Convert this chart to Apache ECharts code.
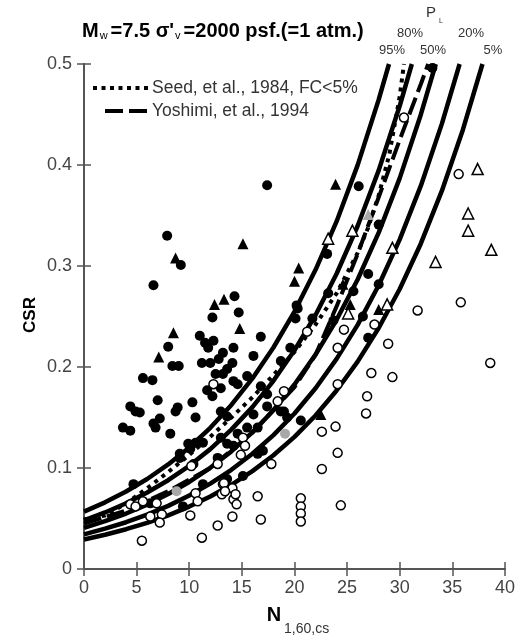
<!DOCTYPE html>
<html>
<head>
<meta charset="utf-8">
<style>
  html, body { margin: 0; padding: 0; background: #fff; }
  #chart { width: 518px; height: 642px; }
</style>
<script src="https://cdn.jsdelivr.net/npm/echarts@6/dist/echarts.min.js"></script>
</head>
<body>
<div id="chart"></div>
<script>
// Liquefaction probability contours: CSR versus N1,60,cs (Mw = 7.5, sigma'v = 1 atm)
const xTicks = [0, 5, 10, 15, 20, 25, 30, 35, 40];
const yTicks = [0, 0.1, 0.2, 0.3, 0.4, 0.5];

// P_L contours, [N1,60,cs, CSR]
const pl95 = [[0,0.0568],[2,0.0660],[4,0.0767],[6,0.0891],[8,0.1035],[10,0.1203],[12,0.1398],[14,0.1624],[16,0.1887],[18,0.2193],[20,0.2549],[22,0.2962],[24,0.3441],[26,0.3999],[28,0.4647],[28.98,0.5]];
const pl80 = [[0,0.0482],[2,0.0560],[4,0.0651],[6,0.0757],[8,0.0879],[10,0.1022],[12,0.1187],[14,0.1380],[16,0.1603],[18,0.1863],[20,0.2165],[22,0.2515],[24,0.2923],[26,0.3396],[28,0.3947],[30,0.4586],[31.15,0.5]];
const pl50 = [[0,0.0407],[2,0.0473],[4,0.0549],[6,0.0638],[8,0.0742],[10,0.0862],[12,0.1002],[14,0.1164],[16,0.1353],[18,0.1572],[20,0.1827],[22,0.2123],[24,0.2467],[26,0.2866],[28,0.3331],[30,0.3870],[32,0.4498],[33.42,0.5]];
const pl20 = [[0,0.0343],[2,0.0399],[4,0.0463],[6,0.0538],[8,0.0625],[10,0.0727],[12,0.0845],[14,0.0982],[16,0.1141],[18,0.1326],[20,0.1540],[22,0.1790],[24,0.2080],[26,0.2417],[28,0.2809],[30,0.3264],[32,0.3793],[34,0.4407],[35.69,0.5]];
const pl05 = [[0,0.0292],[2,0.0339],[4,0.0394],[6,0.0457],[8,0.0531],[10,0.0618],[12,0.0718],[14,0.0834],[16,0.0969],[18,0.1126],[20,0.1308],[22,0.1520],[24,0.1767],[26,0.2053],[28,0.2386],[30,0.2772],[32,0.3221],[34,0.3743],[36,0.4350],[37.86,0.5]];

// Reference boundary curves
const seed1984 = [[0,0.049],[2,0.053],[4,0.065],[6,0.080],[8,0.096],[10,0.113],[12,0.131],[14,0.150],[16,0.170],[18,0.192],[20,0.215],[22,0.242],[24,0.273],[26,0.313],[27,0.338],[28,0.370],[29,0.410],[30,0.468],[30.4,0.5]];
const yoshimi1994 = [[0,0.045],[4,0.058],[8,0.077],[12,0.100],[16,0.135],[20,0.180],[22,0.212],[24,0.260],[26,0.312],[28,0.368],[30,0.425],[32,0.480],[32.7,0.5]];

// Case histories
const liqCircles = [[7.9,0.330],[9.2,0.301],[6.6,0.281],[17.4,0.380],[14.3,0.270],[14.7,0.254],[12.2,0.249],[20.2,0.261],[16.8,0.230],[8.0,0.220],
  [11.0,0.231],[11.5,0.224],[12.3,0.226],[11.8,0.219],[13.2,0.214],[14.2,0.219],[16.1,0.211],[11.2,0.204],[12.0,0.204],[12.8,0.208],[14.1,0.204],[8.4,0.201],[9.0,0.201],[12.5,0.193],[13.6,0.198],[14.2,0.186],[5.6,0.189],[6.5,0.187],[7.0,0.167],[4.4,0.161],[4.9,0.156],[5.3,0.155],[8.7,0.156],[8.9,0.160],[10.3,0.165],[10.6,0.150],[6.6,0.144],[7.2,0.149],[3.7,0.140],[4.4,0.137],[8.2,0.134],[6.8,0.140],
  [9.1,0.114],[10.1,0.119],[10.6,0.125],[13.0,0.156],[13.6,0.151],[12.2,0.171],[11.7,0.177],[13.0,0.179],[13.2,0.193],[14.6,0.183],[15.5,0.191],[16.8,0.181],[17.4,0.173],[18.7,0.206],[19.6,0.219],[20.3,0.258],[20.1,0.248],[17.4,0.161],[16.1,0.153],[15.5,0.140],[14.6,0.134],[13.6,0.124],[13.0,0.130],[9.1,0.110],[11.3,0.125],[10.4,0.104],[18.7,0.156],[19.3,0.150],[16.5,0.140],[17.0,0.117],
  [4.7,0.084],[9.9,0.124],[11.3,0.084],[6.3,0.065],[9.4,0.062],[12.7,0.110],[13.6,0.089],[15.1,0.092],[16.5,0.114],[14.2,0.122],
  [23.2,0.273],[27.0,0.292],[23.7,0.246],[26.5,0.250],[28.0,0.282],[19.0,0.156],[20.6,0.147],[27.0,0.229],[23.1,0.312],[21.7,0.248],[25.6,0.275],[26.1,0.379],[28.0,0.341],[33.1,0.496]];
const liqTriangles = [[8.7,0.308],[15.1,0.322],[12.4,0.262],[13.3,0.267],[20.4,0.298],[20.0,0.285],[8.5,0.234],[14.8,0.238],[7.1,0.210],[23.9,0.381],[24.6,0.282],[25.3,0.262],[28.0,0.257],[22.5,0.153]];
const nonLiqCircles = [[12.3,0.183],[19.0,0.176],[18.4,0.166],[15.1,0.130],[15.3,0.122],[14.9,0.113],[17.8,0.104],[10.2,0.102],[12.7,0.104],
  [4.4,0.064],[4.9,0.062],[5.6,0.067],[6.9,0.065],[7.4,0.054],[6.3,0.052],[7.2,0.046],[5.5,0.028],[10.1,0.053],[10.6,0.075],[10.8,0.067],[12.7,0.043],[11.2,0.031],[13.2,0.084],[14.1,0.080],[14.2,0.069],[14.5,0.064],[14.1,0.052],[14.4,0.074],[13.1,0.074],[16.5,0.072],[16.8,0.049],
  [24.1,0.183],[22.6,0.136],[23.9,0.141],[24.1,0.115],[22.6,0.099],[20.6,0.070],[20.6,0.062],[20.6,0.055],[20.6,0.047],[24.4,0.063],[13.3,0.085],[13.4,0.077],
  [35.8,0.264],[31.7,0.256],[38.6,0.204],[24.7,0.237],[27.6,0.242],[24.1,0.219],[28.9,0.223],[27.3,0.194],[29.3,0.190],[26.9,0.171],[26.8,0.154],[21.2,0.235],
  [30.4,0.447],[35.6,0.391]];
const nonLiqTriangles = [[38.7,0.316],[33.4,0.304],[29.3,0.318],[28.8,0.262],[25.1,0.253],[37.4,0.396],[36.5,0.352],[36.5,0.335],[25.5,0.335],[23.2,0.327]];
const marginalCircles = [[8.8,0.077],[19.1,0.134]];
const marginalTriangles = [[27.0,0.351]];

const contourLabels = ['95%', '80%', '50%', '20%', '5%'];

const FONT = 'Liberation Sans, Arial, sans-serif';
const AXIS_COLOR = '#555';
const LABEL_COLOR = '#444';

const chart = echarts.init(document.getElementById('chart'), null, { renderer: 'canvas' });

function contour(data) {
  return {
    type: 'line', data: data, smooth: false, showSymbol: false, symbol: 'none',
    lineStyle: { color: '#000', width: 4.5, join: 'round' }, z: 2, silent: true
  };
}
function points(data, symbol, fill, stroke, size) {
  return {
    type: 'scatter', data: data, symbol: symbol, symbolSize: size,
    itemStyle: { color: fill, borderColor: stroke, borderWidth: stroke ? 1.5 : 0, opacity: 1 },
    z: 4, silent: true
  };
}

const axisCommon = {
  axisLine: { show: true, lineStyle: { color: AXIS_COLOR, width: 2 } },
  axisTick: { show: true, inside: true, length: 7, lineStyle: { color: AXIS_COLOR, width: 1.5 } },
  splitLine: { show: false }
};

const option = {
  backgroundColor: '#fff',
  animation: false,
  grid: { left: 84, right: 13, top: 64, bottom: 73, containLabel: false },
  xAxis: [
    Object.assign({ type: 'value', min: xTicks[0], max: xTicks[xTicks.length - 1], interval: 5, position: 'bottom',
      axisLabel: { fontSize: 18, color: LABEL_COLOR, margin: 10, fontFamily: FONT } }, axisCommon),
    Object.assign({ type: 'value', min: xTicks[0], max: xTicks[xTicks.length - 1], interval: 5, position: 'top',
      axisLabel: { show: false } }, axisCommon)
  ],
  yAxis: [
    Object.assign({ type: 'value', min: yTicks[0], max: yTicks[yTicks.length - 1], interval: 0.1, position: 'left',
      axisLabel: { fontSize: 18, color: LABEL_COLOR, margin: 12, fontFamily: FONT,
        formatter: v => (v === 0 ? '0' : v.toFixed(1)) } }, axisCommon),
    Object.assign({ type: 'value', min: yTicks[0], max: yTicks[yTicks.length - 1], interval: 0.1, position: 'right',
      axisLabel: { show: false } }, axisCommon)
  ],
  series: [
    contour(pl95), contour(pl80), contour(pl50), contour(pl20), contour(pl05),
    {
      type: 'line', data: seed1984, smooth: false, symbol: 'none',
      lineStyle: { color: '#000', width: 4, type: [4, 5], cap: 'butt' }, z: 3, silent: true
    },
    {
      type: 'line', data: yoshimi1994, smooth: false, symbol: 'none',
      lineStyle: { color: '#000', width: 4, type: [18, 6], cap: 'butt' }, z: 3, silent: true
    },
    points(liqCircles, 'circle', '#000', null, 10),
    points(liqTriangles, 'triangle', '#000', null, 11),
    points(nonLiqCircles, 'circle', '#fff', '#000', 9),
    points(nonLiqTriangles, 'triangle', '#fff', '#000', 11),
    points(marginalCircles, 'circle', '#a8a8a8', null, 10),
    points(marginalTriangles, 'triangle', '#a8a8a8', null, 11)
  ],
  graphic: [
    // heading
    {
      type: 'text', left: 82, top: 21, z: 10,
      style: {
        text: '{b|M}{s|w}{b|=7.5 σ\'}{s|v}{b|=2000 psf.(=1 atm.)}',
        rich: {
          b: { fontSize: 20, fontWeight: 'bold', fontFamily: FONT, fill: '#000', lineHeight: 23, verticalAlign: 'bottom' },
          s: { fontSize: 11, fontFamily: FONT, fill: '#000', lineHeight: 13, verticalAlign: 'bottom', padding: [0, 3, 0, 1] }
        }
      }
    },
    // P_L heading and contour labels
    { type: 'text', x: 431, y: 13, z: 10, style: { text: 'P', font: '15px ' + FONT, fill: '#333', align: 'center', verticalAlign: 'middle' } },
    { type: 'text', x: 441, y: 21, z: 10, style: { text: 'L', font: '7px ' + FONT, fill: '#333', align: 'center', verticalAlign: 'middle' } },
    { type: 'text', x: 410, y: 33, z: 10, style: { text: contourLabels[1], font: '13px ' + FONT, fill: '#333', align: 'center', verticalAlign: 'middle' } },
    { type: 'text', x: 471, y: 33, z: 10, style: { text: contourLabels[3], font: '13px ' + FONT, fill: '#333', align: 'center', verticalAlign: 'middle' } },
    { type: 'text', x: 392, y: 50, z: 10, style: { text: contourLabels[0], font: '13px ' + FONT, fill: '#333', align: 'center', verticalAlign: 'middle' } },
    { type: 'text', x: 433, y: 50, z: 10, style: { text: contourLabels[2], font: '13px ' + FONT, fill: '#333', align: 'center', verticalAlign: 'middle' } },
    { type: 'text', x: 493, y: 50, z: 10, style: { text: contourLabels[4], font: '13px ' + FONT, fill: '#333', align: 'center', verticalAlign: 'middle' } },
    // legend
    { type: 'line', z: 10, shape: { x1: 93, y1: 88, x2: 149, y2: 88 }, style: { stroke: '#000', lineWidth: 4, lineDash: [4, 4.5] } },
    { type: 'text', x: 152, y: 88, z: 10, style: { text: 'Seed, et al., 1984, FC<5%', font: '17.5px ' + FONT, fill: '#333', verticalAlign: 'middle' } },
    { type: 'line', z: 10, shape: { x1: 105, y1: 111, x2: 149, y2: 111 }, style: { stroke: '#000', lineWidth: 4, lineDash: [18, 6] } },
    { type: 'text', x: 152, y: 111, z: 10, style: { text: 'Yoshimi, et al., 1994', font: '17.5px ' + FONT, fill: '#333', verticalAlign: 'middle' } },
    // axis titles
    { type: 'text', x: 30, y: 315, rotation: Math.PI / 2, z: 10, style: { text: 'CSR', font: 'bold 17px ' + FONT, fill: '#000', align: 'center', verticalAlign: 'middle' } },
    { type: 'text', x: 274, y: 615, z: 10, style: { text: 'N', font: 'bold 20px ' + FONT, fill: '#000', align: 'center', verticalAlign: 'middle' } },
    { type: 'text', x: 284, y: 629, z: 10, style: { text: '1,60,cs', font: '14px ' + FONT, fill: '#333', verticalAlign: 'middle' } }
  ]
};

chart.setOption(option);
</script>
</body>
</html>
